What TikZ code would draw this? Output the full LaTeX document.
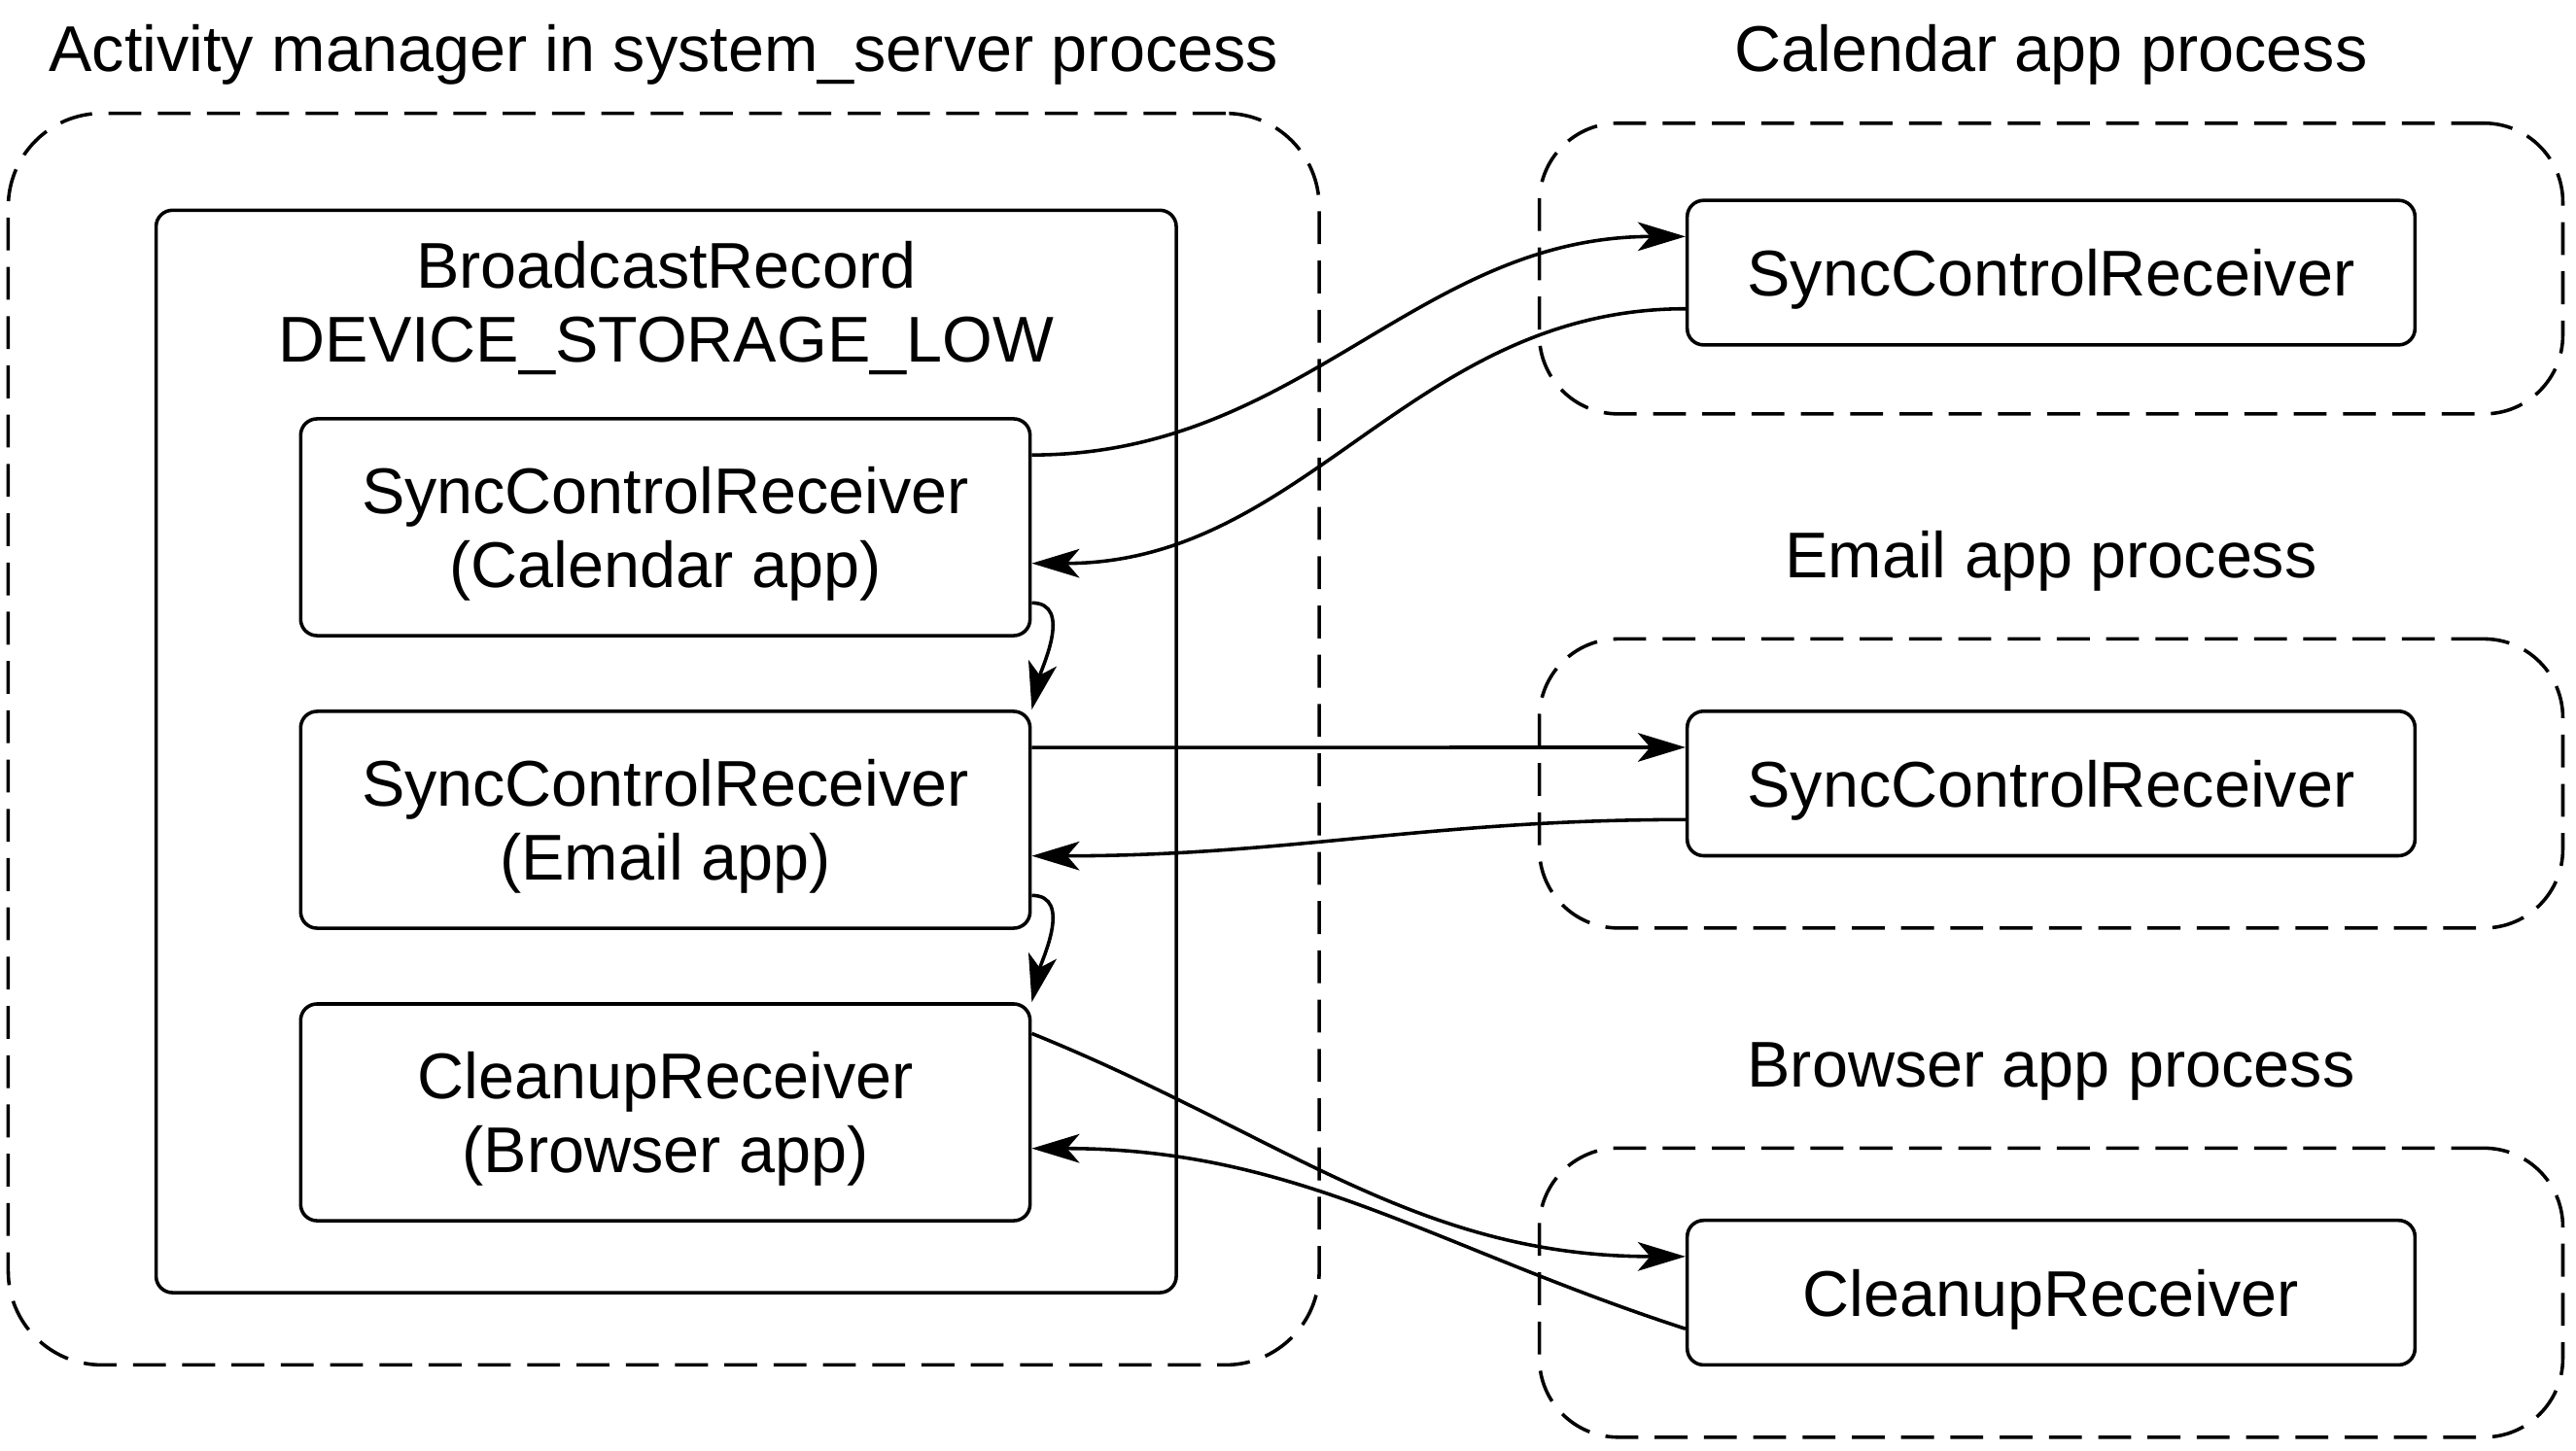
\documentclass[tikz,border=0pt]{standalone}
\usepackage{fontspec}
\setmainfont{Liberation Sans}
\usetikzlibrary{positioning,arrows.meta}

\begin{document}
\begin{tikzpicture}[x=0.1mm, y=0.1mm, line width=0.6pt, node distance=4.4mm,
  every node/.style={font=\fontsize{11.2pt}{12.8pt}\selectfont},
  rbox/.style={draw, rounded corners=1mm, align=center, text depth=0pt, minimum width=44.4mm},
  proc/.style={draw, dash pattern=on 2mm off 1mm, rounded corners=#1},
  ttl/.style={inner sep=0pt},
  arr/.style={-{Stealth[length=2.9mm, width=1.75mm, inset=0.75mm]}}]
\useasboundingbox (0,0) rectangle (1568,-883);
% activity manager side
\node[proc=5.7mm, minimum width=79.8mm, minimum height=76.2mm] (am) at (404,-450) {};
\node[ttl, above=1.55mm of am.north] (amtitle) {Activity manager in system\_server process};
\node[draw, rounded corners=1mm, minimum width=62.1mm, minimum height=65.9mm] (rec) at (405.5,-457.5) {};
\node[ttl, align=center, below=1.9mm of rec.north] (rectitle) {BroadcastRecord\\DEVICE\_STORAGE\_LOW};
\node[rbox, minimum height=13.2mm] (cal) at (405,-321) {SyncControlReceiver\\(Calendar app)};
\node[rbox, minimum height=13.2mm, below=of cal] (email) {SyncControlReceiver\\(Email app)};
\node[rbox, minimum height=13.2mm, below=of email] (browser) {CleanupReceiver\\(Browser app)};
% app processes
\node[proc=4.8mm, minimum width=62.3mm, minimum height=17.7mm] (calproc) at (1248.5,-163.5) {};
\node[ttl, above=2.15mm of calproc.north] (caltitle) {Calendar app process};
\node[rbox, minimum width=44.3mm, minimum height=8.8mm] (calrecv) at (1248.5,-166) {SyncControlReceiver};
\node[proc=4.8mm, minimum width=62.3mm, minimum height=17.6mm] (emailproc) at (1248.5,-477) {};
\node[ttl, above=2.7mm of emailproc.north] (emailtitle) {Email app process};
\node[rbox, minimum width=44.3mm, minimum height=8.8mm] (emailrecv) at (1248.5,-477) {SyncControlReceiver};
\node[proc=4.8mm, minimum width=62.3mm, minimum height=17.6mm] (browproc) at (1248.5,-787) {};
\node[ttl, above=2.7mm of browproc.north] (browtitle) {Browser app process};
\node[rbox, minimum width=44.3mm, minimum height=8.8mm] (browrecv) at (1248.5,-787) {CleanupReceiver};
% dispatch
\draw[arr] ([yshift=4.4mm]cal.east) to[out=0,in=180] ([yshift=2.2mm]calrecv.west);
\draw[arr] ([yshift=-2.2mm]calrecv.west) to[out=180,in=0] ([yshift=-2.2mm]cal.east);
\draw[arr] ([yshift=2.1mm]cal.south east) to[out=0,in=77] (email.north east);
\draw[arr] ([yshift=4.4mm]email.east) -- ([yshift=2.2mm]emailrecv.west);
\draw[arr] ([yshift=-2.2mm]emailrecv.west) to[out=180,in=0] ([yshift=-2.2mm]email.east);
\draw[arr] ([yshift=2.1mm]email.south east) to[out=0,in=77] (browser.north east);
\draw[arr] ([yshift=4.8mm]browser.east) to[out=-22,in=180] ([yshift=2.2mm]browrecv.west);
\draw[arr] ([yshift=-2.2mm]browrecv.west) to[out=162,in=0] ([yshift=-2.2mm]browser.east);
\end{tikzpicture}
\end{document}
